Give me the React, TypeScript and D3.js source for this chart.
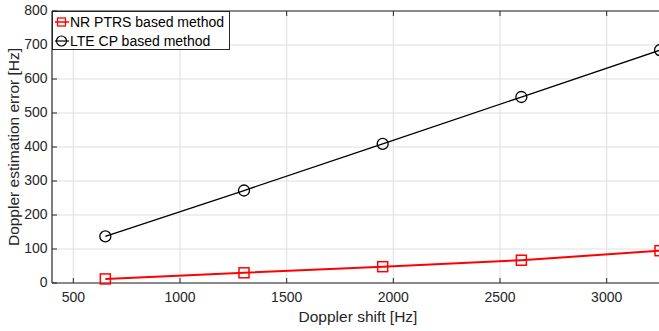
import React from 'react';
import * as d3 from 'd3';

const dopplerShift = [650, 1300, 1950, 2600, 3250];
const nrPtrs = [12, 30, 48, 67, 95];
const lteCp = [137, 272, 409, 547, 685];
const xTicks = [500, 1000, 1500, 2000, 2500, 3000];
const yTicks = [0, 100, 200, 300, 400, 500, 600, 700, 800];

const W = 659;
const H = 331;
const margin = { left: 52, top: 11, bottom: 283 };
const font = 'Liberation Sans, Arial, Helvetica, sans-serif';

export default function App() {
  const x = d3.scaleLinear().domain([400, 3300]).range([margin.left, 670.7]);
  const y = d3.scaleLinear().domain([0, 800]).range([margin.bottom, margin.top]);
  const line = d3
    .line<number>()
    .x((_d, i) => x(dopplerShift[i]))
    .y(d => y(d));
  const right = x(3300);

  return (
    <svg width={W} height={H} style={{ position: 'absolute', left: 0, top: 0, background: '#fff' }}>
      <defs>
        <clipPath id="plot">
          <rect x={margin.left} y={margin.top - 8} width={right - margin.left} height={margin.bottom - margin.top + 16} />
        </clipPath>
      </defs>
      {/* grid */}
      {xTicks.map(t => (
        <line key={'gx' + t} x1={x(t)} x2={x(t)} y1={margin.top} y2={margin.bottom} stroke="#dfdfdf" strokeWidth={1} />
      ))}
      {yTicks.map(t => (
        <line key={'gy' + t} x1={margin.left} x2={right} y1={y(t)} y2={y(t)} stroke="#dfdfdf" strokeWidth={1} />
      ))}
      {/* axes box */}
      <line x1={margin.left} x2={right} y1={margin.bottom} y2={margin.bottom} stroke="#262626" strokeWidth={1.2} />
      <line x1={margin.left} x2={right} y1={margin.top} y2={margin.top} stroke="#262626" strokeWidth={1.2} />
      <line x1={margin.left} x2={margin.left} y1={margin.top} y2={margin.bottom} stroke="#262626" strokeWidth={1.2} />
      {xTicks.map(t => (
        <g key={'tx' + t}>
          <line x1={x(t)} x2={x(t)} y1={margin.bottom} y2={margin.bottom - 5} stroke="#262626" />
          <line x1={x(t)} x2={x(t)} y1={margin.top} y2={margin.top + 5} stroke="#262626" />
          <text x={x(t)} y={margin.bottom + 18.5} textAnchor="middle" fontFamily={font} fontSize={14} fill="#262626">
            {t}
          </text>
        </g>
      ))}
      {yTicks.map(t => (
        <g key={'ty' + t}>
          <line x1={margin.left} x2={margin.left + 5} y1={y(t)} y2={y(t)} stroke="#262626" />
          <text x={margin.left - 4.5} y={y(t) + 4} textAnchor="end" fontFamily={font} fontSize={14} fill="#262626">
            {t}
          </text>
        </g>
      ))}
      {/* series */}
      <g clipPath="url(#plot)">
        <path d={line(lteCp) ?? ''} fill="none" stroke="#000" strokeWidth={1.3} />
        {lteCp.map((v, i) => (
          <circle key={'c' + i} cx={x(dopplerShift[i])} cy={y(v)} r={5.5} fill="none" stroke="#000" strokeWidth={1.3} />
        ))}
        <path d={line(nrPtrs) ?? ''} fill="none" stroke="#ff0000" strokeWidth={2} />
        {nrPtrs.map((v, i) => (
          <rect key={'s' + i} x={x(dopplerShift[i]) - 5} y={y(v) - 5} width={10} height={10} fill="none" stroke="#ff0000" strokeWidth={1.5} />
        ))}
      </g>
      {/* legend */}
      <rect x={margin.left + 0.5} y={margin.top + 0.5} width={177} height={38} fill="#fff" stroke="#262626" strokeWidth={1} />
      <line x1={55} x2={69} y1={22} y2={22} stroke="#ff0000" strokeWidth={1.5} />
      <rect x={57.5} y={18} width={8} height={8} fill="none" stroke="#ff0000" strokeWidth={1.3} />
      <text x={70} y={27} fontFamily={font} fontSize={14} fill="#000">NR PTRS based method</text>
      <line x1={55} x2={69} y1={41} y2={41} stroke="#000" strokeWidth={1.2} />
      <circle cx={61.5} cy={41} r={5} fill="none" stroke="#000" strokeWidth={1.2} />
      <text x={70} y={46} fontFamily={font} fontSize={14} fill="#000">LTE CP based method</text>
      {/* axis labels */}
      <text x={358} y={321.5} textAnchor="middle" fontFamily={font} fontSize={15.5} fill="#262626">
        Doppler shift [Hz]
      </text>
      <text
        transform={`translate(19,${(margin.top + margin.bottom) / 2}) rotate(-90)`}
        textAnchor="middle"
        fontFamily={font}
        fontSize={15.5}
        fill="#262626"
      >
        Doppler estimation error [Hz]
      </text>
    </svg>
  );
}
